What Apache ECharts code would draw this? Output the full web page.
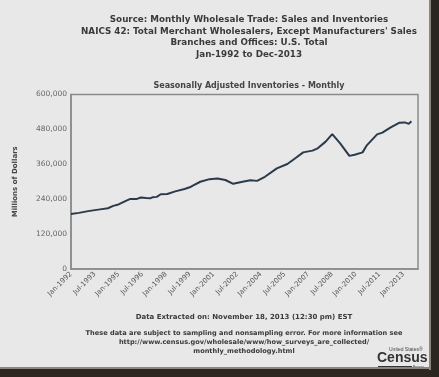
<!DOCTYPE html>
<html>
<head>
<meta charset="utf-8">
<script src="https://cdn.jsdelivr.net/npm/echarts@6/dist/echarts.min.js"></script>
<style>
  html, body { margin: 0; padding: 0; background: #e8e8e8; }
  #main { width: 439px; height: 377px; }
</style>
</head>
<body>
<div id="main"></div>
<script>
// month index (0 = Jan-1992) and inventories, millions of dollars
var monthIdx = [0, 6, 13, 22, 28, 32, 36, 42, 45, 50, 53, 57, 60, 62, 65, 68, 73, 79, 86, 90, 92, 98, 105, 111, 117, 123, 130, 136, 141, 147, 156, 164, 170, 176, 183, 187, 193, 198, 204, 211, 215, 221, 224, 232, 236, 242, 249, 253, 256, 258];
var inventories = [189000, 193000, 199000, 205000, 209000, 217000, 222000, 235000, 241000, 241000, 246000, 244000, 243000, 247000, 248000, 257000, 258000, 267000, 275000, 281000, 286000, 300000, 309000, 311000, 306000, 293000, 300000, 305000, 303000, 317000, 346000, 361000, 381000, 401000, 407000, 415000, 438000, 464000, 432000, 389000, 393000, 401000, 424000, 463000, 469000, 486000, 503000, 504000, 499000, 508000];
var xTickLabels = ['Jan-1992', 'Jul-1993', 'Jan-1995', 'Jul-1996', 'Jan-1998', 'Jul-1999', 'Jan-2001', 'Jul-2002', 'Jan-2004', 'Jul-2005', 'Jan-2007', 'Jul-2008', 'Jan-2010', 'Jul-2011', 'Jan-2013'];
var yTickLabels = ['0', '120,000', '240,000', '360,000', '480,000', '600,000'];

var titleLines = [
    'Source: Monthly Wholesale Trade: Sales and Inventories',
    "NAICS 42: Total Merchant Wholesalers, Except Manufacturers' Sales",
    'Branches and Offices: U.S. Total',
    'Jan-1992 to Dec-2013'
];
var footLines = [
    'These data are subject to sampling and nonsampling error. For more information see',
    'http://www.census.gov/wholesale/www/how_surveys_are_collected/',
    'monthly_methodology.html'
];

var myChart = echarts.init(document.getElementById('main'));
var font = 'DejaVu Sans, Verdana, sans-serif';

var seriesData = [];
for (var i = 0; i < monthIdx.length; i++) {
    seriesData.push([monthIdx[i], inventories[i]]);
}

var option = {
    backgroundColor: '#e8e8e8',
    animation: false,
    grid: {
        left: 71,
        right: 21,
        top: 94.5,
        bottom: 108,
        show: true,
        borderColor: '#8a8a8a',
        borderWidth: 1.5
    },
    title: [{
        text: titleLines.join('\n'),
        left: 244,
        top: 9,
        textAlign: 'center',
        textStyle: {
            fontFamily: font,
            fontSize: 8.75,
            fontWeight: 'bold',
            color: '#3a3a3a',
            lineHeight: 11.5
        }
    }, {
        text: 'Seasonally Adjusted Inventories - Monthly',
        left: 244,
        top: 77,
        textAlign: 'center',
        textStyle: {
            fontFamily: font,
            fontSize: 8,
            fontWeight: 'bold',
            color: '#444'
        }
    }],
    xAxis: {
        type: 'value',
        min: 0,
        max: 263,
        interval: 18,
        splitLine: { show: false },
        axisTick: { show: false },
        axisLine: { lineStyle: { color: '#8a8a8a', width: 1.5 } },
        axisLabel: {
            rotate: 45,
            margin: 4,
            fontFamily: font,
            fontSize: 7,
            color: '#555',
            showMaxLabel: false,
            formatter: function (v) {
                return xTickLabels[v / 18] || '';
            }
        }
    },
    yAxis: {
        type: 'value',
        min: 0,
        max: 600000,
        interval: 120000,
        name: 'Millions of Dollars',
        nameLocation: 'middle',
        nameGap: 52,
        nameTextStyle: {
            fontFamily: font,
            fontSize: 7,
            fontWeight: 'bold',
            color: '#444'
        },
        splitLine: { show: false },
        axisTick: { show: false },
        axisLine: { show: true, lineStyle: { color: '#8a8a8a', width: 1.5 } },
        axisLabel: {
            margin: 4,
            fontFamily: font,
            fontSize: 7.5,
            color: '#666',
            formatter: function (v) {
                return yTickLabels[v / 120000];
            }
        }
    },
    series: [{
        type: 'line',
        data: seriesData,
        showSymbol: false,
        smooth: false,
        lineStyle: { color: '#2b3a4b', width: 2 }
    }],
    graphic: [
        // footer text
        {
            type: 'text', x: 244, y: 317,
            style: {
                text: 'Data Extracted on: November 18, 2013 (12:30 pm) EST',
                font: 'bold 7px ' + font, fill: '#3a3a3a',
                align: 'center', verticalAlign: 'middle'
            }
        },
        {
            type: 'text', x: 244, y: 329,
            style: {
                text: footLines.join('\n'),
                font: 'bold 6.6px ' + font, fill: '#3a3a3a',
                align: 'center', verticalAlign: 'top', lineHeight: 9
            }
        },
        // census logo
        {
            type: 'text', x: 389, y: 347,
            style: { text: 'United States\u00ae', font: '5px Liberation Sans, Arial, sans-serif', fill: '#444' }
        },
        {
            type: 'text', x: 377, y: 351,
            style: { text: 'Census', font: 'bold 14px Liberation Sans, Arial, sans-serif', fill: '#333' }
        },
        {
            type: 'rect', shape: { x: 378, y: 366, width: 34, height: 1.8 },
            style: { fill: '#333' }
        },
        {
            type: 'text', x: 413, y: 365,
            style: { text: 'Bureau', font: '3.5px Liberation Sans, Arial, sans-serif', fill: '#444' }
        },
        // photo frame shadow on right and bottom
        {
            type: 'rect', shape: { x: 431, y: 0, width: 8, height: 377 },
            style: { fill: '#2c2620' }
        },
        {
            type: 'rect', shape: { x: 0, y: 369, width: 439, height: 8 },
            style: { fill: '#2c2620' }
        },
        {
            type: 'rect', shape: { x: 429, y: 0, width: 2, height: 370 },
            style: { fill: '#8c857c' }
        },
        {
            type: 'rect', shape: { x: 0, y: 367, width: 431, height: 2 },
            style: { fill: '#8c857c' }
        }
    ]
};

myChart.setOption(option);
</script>
</body>
</html>
